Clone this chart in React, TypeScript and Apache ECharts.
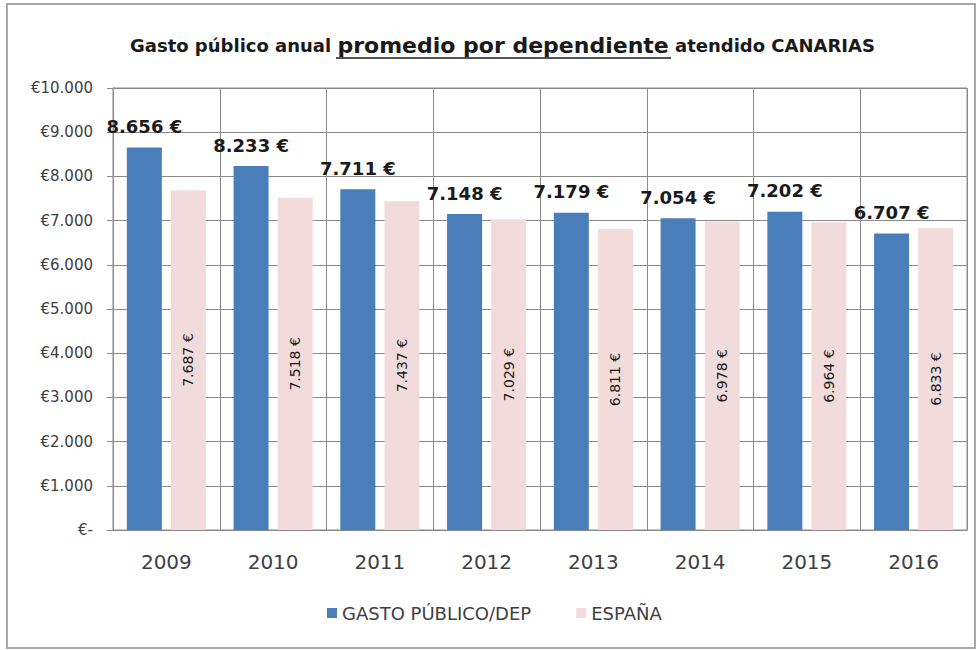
import React, { useEffect, useRef } from "react";
import * as echarts from "echarts";

const years = ["2009", "2010", "2011", "2012", "2013", "2014", "2015", "2016"];
const gastoPublico = [8656, 8233, 7711, 7148, 7179, 7054, 7202, 6707];
const espana = [7687, 7518, 7437, 7029, 6811, 6978, 6964, 6833];
const seriesNames = ["GASTO PÚBLICO/DEP", "ESPAÑA"];

const fmtThousands = (v: number) => {
  const s = String(Math.round(v));
  return s.replace(/\B(?=(\d{3})+(?!\d))/g, ".");
};

export default function App() {
  const ref = useRef<HTMLDivElement>(null);
  useEffect(() => {
    document.body.style.margin = "0";
    const chart = echarts.init(ref.current!, null, { renderer: "svg" });
    const font = "'DejaVu Sans', 'Open Sans', sans-serif";
    chart.setOption({
      animation: false,
      backgroundColor: "#ffffff",
      textStyle: { fontFamily: font },
      title: {
        left: 125,
        top: 29,
        text: "{a|Gasto público anual }{b|promedio por dependiente}{a| atendido CANARIAS}",
        textStyle: {
          rich: {
            a: { fontSize: 18, fontWeight: "bold", color: "#1a1a1a", fontFamily: font },
            b: { fontSize: 22, fontWeight: "bold", color: "#1a1a1a", fontFamily: font },
          },
        },
      },
      graphic: [
        {
          type: "rect",
          shape: { x: 7, y: 4, width: 968, height: 644 },
          style: { fill: "none", stroke: "#a8a8a8", lineWidth: 2 },
          silent: true,
        },
        {
          type: "line",
          shape: { x1: 336, y1: 58, x2: 671, y2: 58 },
          style: { stroke: "#1a1a1a", lineWidth: 1.5 },
          silent: true,
        },
      ],
      legend: {
        top: 599,
        left: 322,
        itemWidth: 10,
        itemHeight: 10,
        itemGap: 45,
        icon: "rect",
        textStyle: { fontSize: 18, color: "#404040", fontFamily: font },
        data: seriesNames,
      },
      grid: {
        left: 113,
        right: 11,
        top: 88,
        bottom: 120,
        show: true,
        borderColor: "#8a8a8a",
        borderWidth: 1,
      },
      xAxis: {
        type: "category",
        data: years,
        axisLine: { show: true, lineStyle: { color: "#8a8a8a" } },
        axisTick: { show: false },
        splitLine: { show: true, lineStyle: { color: "#8a8a8a", width: 1 } },
        axisLabel: { fontSize: 20, color: "#404040", margin: 22, fontFamily: font },
      },
      yAxis: {
        type: "value",
        min: 0,
        max: 10000,
        interval: 1000,
        axisLine: { show: true, lineStyle: { color: "#8a8a8a" } },
        axisTick: { show: true, length: 6, lineStyle: { color: "#8a8a8a" } },
        splitLine: { show: true, lineStyle: { color: "#8a8a8a", width: 1 } },
        axisLabel: {
          fontSize: 15,
          color: "#404040",
          margin: 20,
          fontFamily: font,
          formatter: (v: number) => (v === 0 ? "€-" : "€" + fmtThousands(v)),
        },
      },
      series: [
        {
          name: seriesNames[0],
          type: "bar",
          data: gastoPublico,
          barWidth: 35,
          barGap: "26%",
          itemStyle: { color: "#4a7ebb" },
          label: {
            show: true,
            position: "top",
            distance: 12,
            fontSize: 18,
            fontWeight: "bold",
            color: "#1a1a1a",
            fontFamily: font,
            formatter: (p: any) => fmtThousands(p.value) + " €",
          },
        },
        {
          name: seriesNames[1],
          type: "bar",
          data: espana,
          barWidth: 35,
          itemStyle: { color: "#f2dcdb" },
          label: {
            show: true,
            position: "inside",
            rotate: 90,
            fontSize: 14,
            color: "#1a1a1a",
            fontFamily: font,
            formatter: (p: any) => fmtThousands(p.value) + " €",
          },
        },
      ],
    });
    return () => chart.dispose();
  }, []);
  return <div ref={ref} style={{ width: 978, height: 650 }} />;
}
